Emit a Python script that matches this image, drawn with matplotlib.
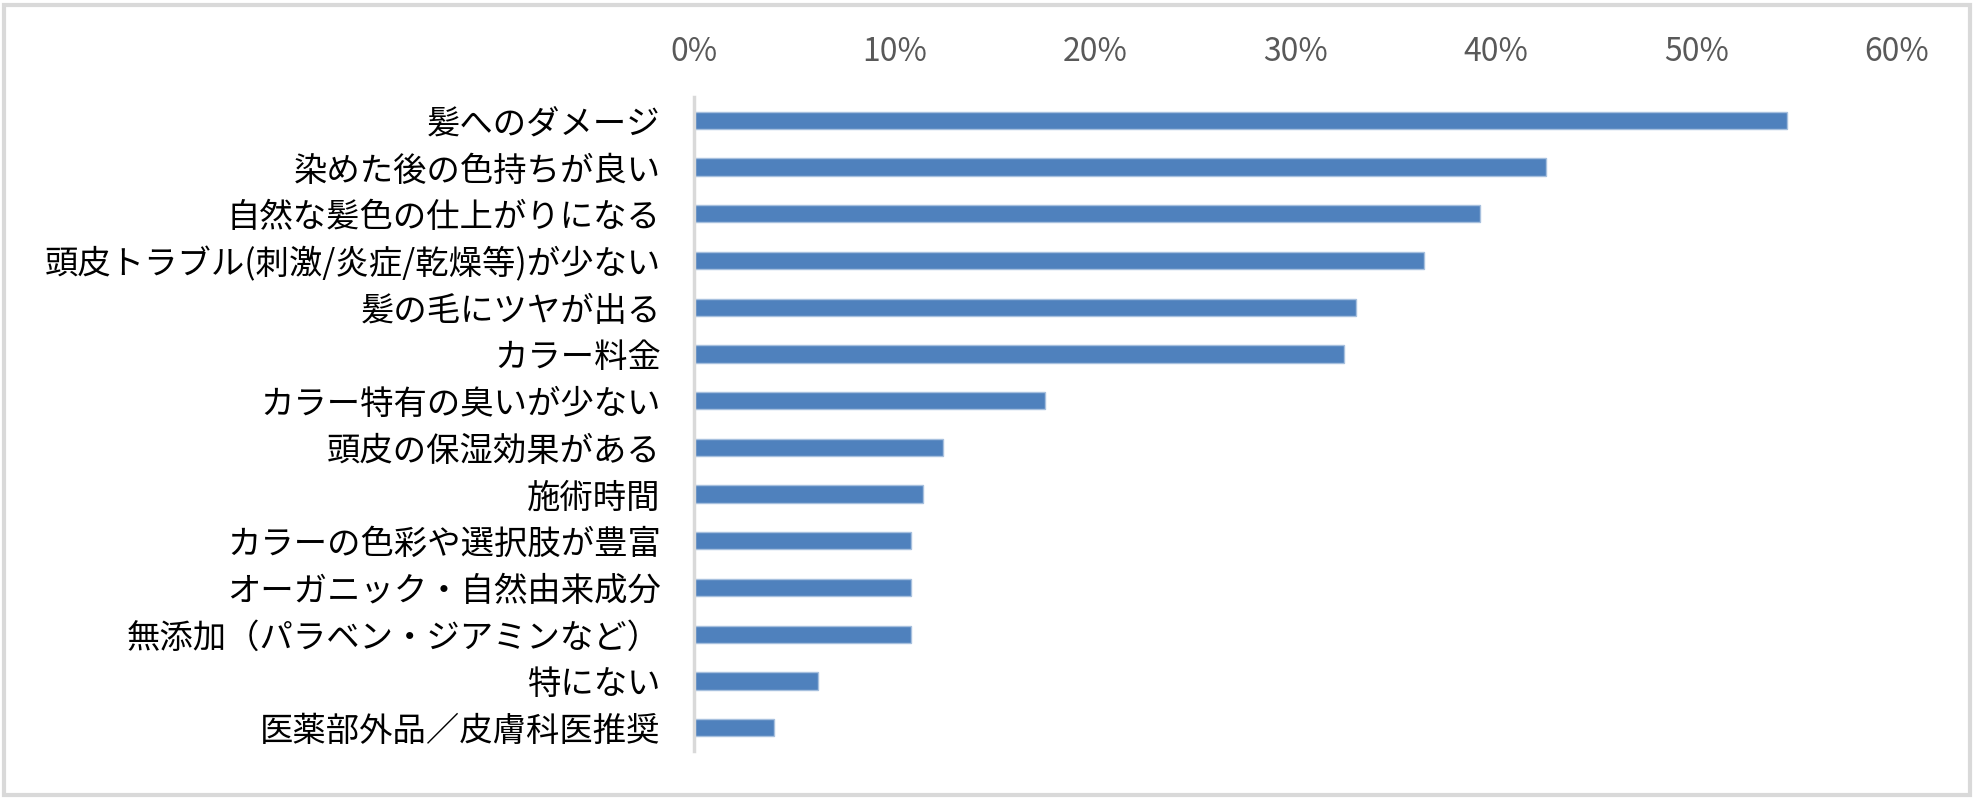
import matplotlib.pyplot as plt
from matplotlib.patches import Rectangle
from matplotlib.ticker import PercentFormatter

plt.rcParams['font.family'] = ['Noto Sans CJK JP', 'DejaVu Sans']

categories = [
    '髪へのダメージ',
    '染めた後の色持ちが良い',
    '自然な髪色の仕上がりになる',
    '頭皮トラブル(刺激/炎症/乾燥等)が少ない',
    '髪の毛にツヤが出る',
    'カラー料金',
    'カラー特有の臭いが少ない',
    '頭皮の保湿効果がある',
    '施術時間',
    'カラーの色彩や選択肢が豊富',
    'オーガニック・自然由来成分',
    '無添加（パラベン・ジアミンなど）',
    '特にない',
    '医薬部外品／皮膚科医推奨',
]
values = [54.5, 42.5, 39.2, 36.4, 33.0, 32.4, 17.5, 12.4, 11.4, 10.8, 10.8, 10.8, 6.2, 4.0]
xticks = [0, 10, 20, 30, 40, 50, 60]

fig = plt.figure(figsize=(19.74, 7.98), dpi=100)
ax = fig.add_axes([0.3516, 0.0589, 0.6094, 0.8195])

ypos = list(range(len(categories)))
ax.barh(ypos, values, height=0.37, color='#4F81BD', edgecolor='#A7C0DE', linewidth=1)

ax.set_xlim(0, 60)
ax.set_ylim(len(categories) - 0.5, -0.5)
ax.set_yticks(ypos)
ax.set_yticklabels(categories, fontsize=24, color='black')
ax.set_xticks(xticks)
ax.xaxis.set_major_formatter(PercentFormatter(decimals=0))
ax.xaxis.tick_top()
ax.tick_params(axis='x', length=0, pad=21, labelsize=23, labelcolor='#595959')
ax.tick_params(axis='y', length=0, pad=24)

for side in ['top', 'right', 'bottom']:
    ax.spines[side].set_visible(False)
ax.spines['left'].set_color('#D9D9D9')
ax.spines['left'].set_linewidth(2.5)

# light grey frame round the chart area
fig.patches.append(Rectangle((0.002, 0.004), 0.996, 0.99, transform=fig.transFigure,
                             fill=False, edgecolor='#D9D9D9', linewidth=3))

fig.savefig('out.png', dpi=100, facecolor='white')
